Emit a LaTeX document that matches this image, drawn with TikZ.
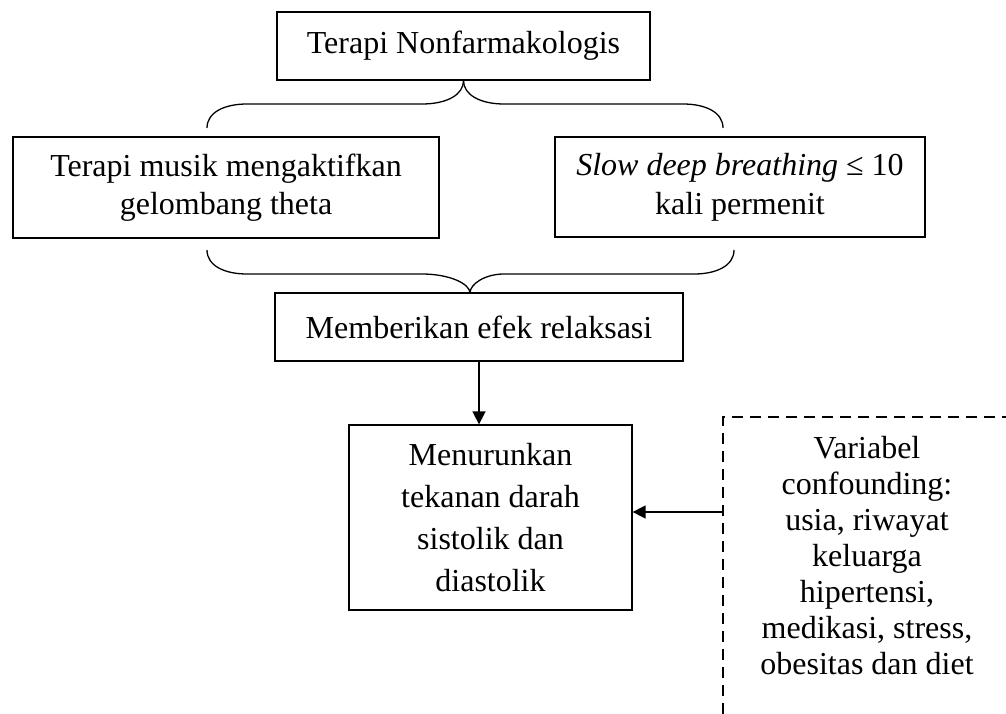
\documentclass[tikz,border=0pt]{standalone}
\usepackage{fontspec}
\setmainfont{Liberation Serif}
\usetikzlibrary{arrows.meta}
\begin{document}
\begin{tikzpicture}[x=1pt,y=-1pt,
  ln/.style={line width=1.3pt},
  box/.style={draw, ln, align=center, inner sep=0pt},
  fnt/.style={font=\fontsize{32}{#1}\selectfont},
  brace/.style={ln},
  arr/.style={line width=1.6pt, -{Triangle[length=13pt,width=13pt]}},
  dashbox/.style={ln, dash pattern=on 11pt off 7pt}]
\useasboundingbox (0,0) rectangle (1006,714);
\node[box, fnt=38, minimum width=373pt, minimum height=68pt] (top) at (463.5,46) {Terapi Nonfarmakologis};
\node[box, fnt=38, minimum width=426pt, minimum height=101pt] (left) at (226,187.5) {Terapi musik mengaktifkan\\gelombang theta};
\node[box, fnt=39, minimum width=370pt, minimum height=100pt] (right) at (740,187) {\textit{Slow deep breathing} ≤ 10\\kali permenit};
\node[box, fnt=38, minimum width=408pt, minimum height=68pt] (mem) at (479,327) {Memberikan efek relaksasi};
\node[box, fnt=42, minimum width=283pt, minimum height=185pt] (bot) at (490.5,517.5) {Menurunkan\\tekanan darah\\sistolik dan\\diastolik};
\node[fnt=36, align=center, inner sep=0pt] (conf) at (867,556) {Variabel\\confounding:\\usia, riwayat\\keluarga\\hipertensi,\\medikasi, stress,\\obesitas dan diet};
% dashed frame (clipped by the page)
\coordinate (dtl) at (723,417);
\coordinate (dbl) at (723,714);
\coordinate (dtr) at (1006,417);
\coordinate (cl) at (723,512);
\draw[dashbox] (dbl) -- (dtl) -- (dtr);
% braces
\coordinate (b2tip) at (470,293);
\draw[brace] (top.south) .. controls +(0,14) and (447,104) .. (422,104) -- (247,104) .. controls (225,104) and (207,112) .. (207,128);
\draw[brace] (top.south) .. controls +(0,14) and (480,104) .. (504,104) -- (683,104) .. controls (705,104) and (723,112) .. (723,128);
\draw[brace] (b2tip) .. controls (470,284) and (450,274) .. (422,274) -- (247,274) .. controls (225,274) and (207,266) .. (207,250);
\draw[brace] (b2tip) .. controls (470,284) and (485,274) .. (504,274) -- (694,274) .. controls (716,274) and (734,266) .. (734,250);
% arrows
\draw[arr] (mem.south) -- (mem.south |- bot.north);
\draw[arr] (cl) -- (bot.east |- cl);
\end{tikzpicture}
\end{document}
